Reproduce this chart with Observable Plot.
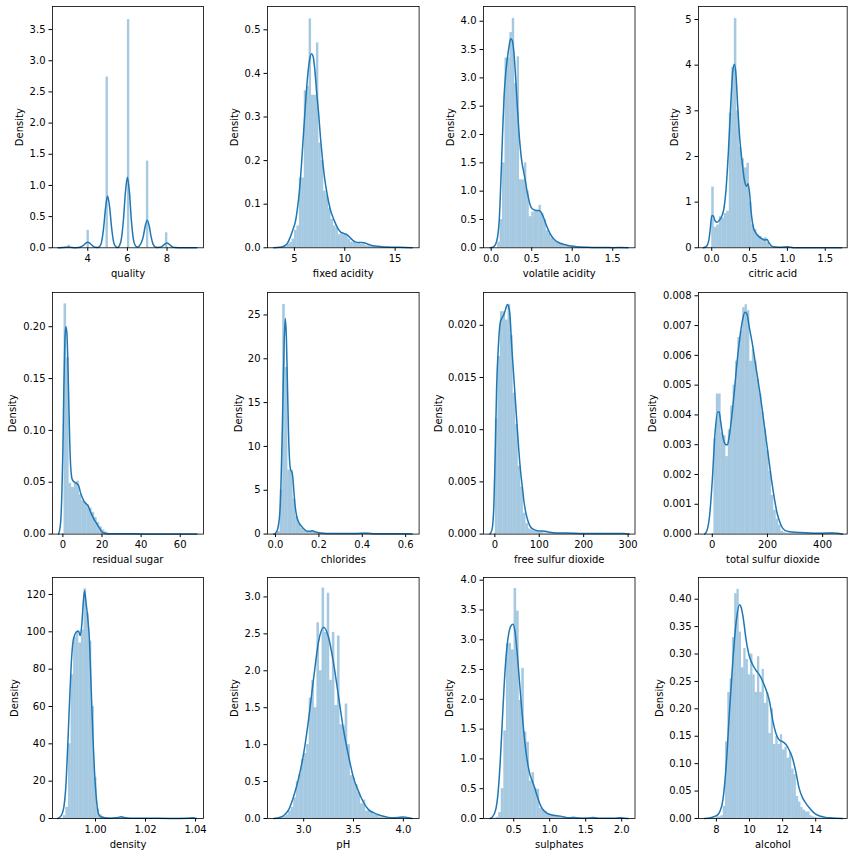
<!DOCTYPE html>
<html><head><meta charset="utf-8">
<script src="https://cdn.jsdelivr.net/npm/d3@7"></script>
<script src="https://cdn.jsdelivr.net/npm/@observablehq/plot@0.6"></script>
<style>
html,body{margin:0;padding:0;background:#fff;}
#fig{position:relative;width:856px;height:856px;background:#fff;overflow:hidden;}
#fig svg{position:absolute;overflow:visible;}
</style></head><body><div id="fig"></div>
<script>
// ---------- data ----------
const names = ["quality","fixed acidity","volatile acidity","citric acid","residual sugar","chlorides","free sulfur dioxide","total sulfur dioxide","density","pH","sulphates","alcohol"];
// histogram ranges (first and last bin edge); every histogram has 50 equal bins
const histRanges = [[3,9],[3.8,15.9],[0.08,1.58],[0,1.66],[0.6,65.8],[0.009,0.611],[1,289],[6,440],[0.98711,1.03898],[2.72,4.01],[0.22,2.0],[8,14.9]];

const qualityHist = [0.04,0,0,0,0,0,0,0,0.28,0,0,0,0,0,0,0,2.74,0,0,0,0,0,0,0,0,3.66,0,0,0,0,0,0,0,1.39,0,0,0,0,0,0,0,0.24,0,0,0,0,0,0,0,0.006];
const fixedAcidityHist = [0.002,0.004,0.008,0.012,0.02,0.04,0.05,0.16,0.16,0.36,0.37,0.525,0.35,0.35,0.47,0.24,0.2,0.13,0.12,0.09,0.065,0.05,0.045,0.03,0.035,0.03,0.028,0.02,0.013,0.012,0.01,0.012,0.008,0.008,0.005,0.004,0.003,0.004,0.002,0.002,0.001,0.001,0.0005,0.001,0.0005,0.0005,0.0003,0.0003,0.0003,0.0005];
const volatileAcidityHist = [0.1,0.5,1.5,3.35,3.35,3.8,4.05,2.9,3.37,1.2,1.2,1.5,1.0,0.55,0.63,0.65,0.65,0.75,0.6,0.5,0.3,0.25,0.17,0.12,0.1,0.07,0.06,0.04,0.035,0.025,0.02,0.015,0.01,0.008,0.006,0.005,0.004,0.004,0.003,0.002,0.002,0.002,0.001,0.001,0.001,0.001,0.001,0.0005,0.0005,0.002];
const citricAcidHist = [1.33,0.45,0.5,0.68,0.65,0.75,0.8,2.95,3.95,5.02,3.0,2.2,1.95,1.75,1.85,1.0,0.5,0.4,0.28,0.25,0.2,0.22,0.12,0.03,0.02,0.015,0.01,0.01,0.01,0.015,0.03,0.005,0.003,0.002,0.002,0.001,0,0,0,0,0,0,0,0,0,0,0,0,0,0.003];
const residualSugarHist = [0.222,0.17,0.049,0.045,0.05,0.051,0.038,0.032,0.03,0.028,0.025,0.021,0.016,0.011,0.007,0.004,0.002,0.0008,0.0004,0.0003,0.0002,0.0002,0.0002,0.0005,0.0002,0.0002,0.0001,0.0001,0.0001,0.0001,0.0001,0.0001,0.0001,0.0001,0.0001,0.0001,0.0001,0.0001,0.0001,0.0001,0.0001,0.0001,0.0001,0.0001,0.0001,0.0001,0.0001,0.0001,0.0001,0.0002];
const chloridesHist = [0.3,5,26.2,19,7.3,7.3,4.0,2.0,1.2,0.7,0.45,0.3,0.3,0.35,0.3,0.2,0.15,0.1,0.08,0.07,0.07,0.06,0.05,0.04,0.04,0.05,0.04,0.05,0.04,0.03,0.04,0.05,0.1,0.08,0.05,0.03,0.02,0.03,0.02,0.02,0.015,0.02,0.01,0.01,0.01,0.01,0.01,0.01,0.005,0.02];
const freeSulfurHist = [0.011,0.017,0.0213,0.0213,0.0205,0.022,0.019,0.0135,0.0105,0.0065,0.0045,0.002,0.001,0.0005,0.0004,0.0003,0.0003,0.0002,0.0002,0.0001,0.00008,0.00005,0.00005,0.00005,0.00005,0.00003,0.00003,0.00003,0.00003,0.00003,0.00003,0.00003,0.00003,0.00003,0.00003,0.00003,0.00003,0.00003,0.00003,0.00003,0.00003,0.00003,0.00003,0.00003,0.00003,0.00003,0.00003,0.00003,0.00003,0.00005];
const totalSulfurHist = [0.0032,0.0047,0.0047,0.0034,0.0033,0.0026,0.0035,0.0043,0.005,0.0058,0.0066,0.0068,0.0076,0.0077,0.0075,0.0058,0.0062,0.0058,0.0052,0.0047,0.0041,0.0035,0.0028,0.0021,0.0013,0.0008,0.0005,0.0003,0.0001,0.00005,0.00003,0.00003,0.00003,0.00003,0.00003,0.00003,0.00003,0.00003,0.00003,0.00003,0.00003,0.00003,0.00003,0.00003,0.00003,0.00003,0.00003,0.00003,0.00003,0.00005];
const densityHist = [1.5,6,40,77,97,100,94,101,123,110,95,60,22,5,2,1,0.5,0.3,0.2,0.3,0.4,0.5,0.8,0.3,0.1,0.1,0.1,0.1,0.1,0.1,0.1,0.1,0.1,0.1,0.1,0.1,0.1,0.1,0.1,0.1,0.1,0.1,0.1,0.1,0.1,0.1,0.1,0.1,0.1,0.3];
const pHHist = [0.01,0.01,0.02,0.03,0.05,0.1,0.15,0.28,0.5,0.6,0.8,0.88,1.0,1.63,1.87,1.5,2.65,2.0,3.12,2.52,3.05,1.87,2.52,1.53,2.47,1.27,1.25,1.55,1.0,0.58,0.55,0.46,0.35,0.2,0.25,0.1,0.1,0.08,0.05,0.04,0.02,0.015,0.01,0.005,0.005,0.003,0.003,0.01,0.02,0.01];
const sulphatesHist = [0.005,0.02,0.1,0.5,1.47,2.93,2.94,2.83,3.86,3.48,1.98,2.52,1.45,1.28,0.63,0.77,0.5,0.49,0.17,0.15,0.12,0.08,0.06,0.05,0.04,0.03,0.02,0.02,0.01,0.01,0.015,0.02,0.01,0.005,0.005,0.01,0.015,0.01,0.005,0.003,0.003,0.002,0.002,0.002,0.002,0.002,0.002,0.002,0.005,0.015];
const alcoholHist = [0.003,0.003,0.005,0.022,0.14,0.23,0.255,0.33,0.41,0.418,0.34,0.275,0.31,0.29,0.262,0.3,0.262,0.23,0.295,0.23,0.272,0.21,0.23,0.155,0.2,0.135,0.15,0.135,0.153,0.125,0.13,0.11,0.12,0.09,0.08,0.04,0.03,0.02,0.015,0.012,0.012,0.005,0.003,0.002,0.001,0.001,0.001,0.001,0.001,0.001];

// kernel density curves: [value, density]
const qualityKde = [[2.5,0],[2.6,0.001],[2.7,0.003],[2.8,0.006],[2.9,0.009],[3.0,0.011],[3.1,0.009],[3.2,0.005],[3.3,0.002],[3.4,0.002],[3.5,0.004],[3.6,0.01],[3.7,0.022],[3.8,0.045],[3.9,0.075],[4.0,0.09],[4.1,0.075],[4.2,0.045],[4.3,0.02],[4.4,0.008],[4.5,0.006],[4.6,0.022],[4.7,0.1],[4.8,0.32],[4.9,0.65],[5.0,0.83],[5.1,0.66],[5.2,0.33],[5.3,0.1],[5.4,0.022],[5.5,0.006],[5.6,0.035],[5.7,0.15],[5.8,0.45],[5.9,0.89],[6.0,1.13],[6.1,0.9],[6.2,0.44],[6.3,0.14],[6.4,0.035],[6.5,0.012],[6.6,0.03],[6.7,0.08],[6.8,0.18],[6.9,0.35],[7.0,0.44],[7.1,0.35],[7.2,0.17],[7.3,0.055],[7.4,0.015],[7.5,0.006],[7.6,0.008],[7.7,0.015],[7.8,0.035],[7.9,0.062],[8.0,0.075],[8.1,0.06],[8.2,0.03],[8.3,0.01],[8.4,0.003],[8.6,0.001],[8.8,0.002],[9.0,0.002],[9.2,0.001],[9.5,0]];
const fixedAcidityKde = [[2.96,0],[3.5,0.001],[4.0,0.004],[4.3,0.01],[4.6,0.025],[4.9,0.045],[5.1,0.06],[5.3,0.09],[5.5,0.13],[5.7,0.19],[5.9,0.26],[6.1,0.33],[6.3,0.39],[6.5,0.43],[6.7,0.445],[6.85,0.44],[7.0,0.415],[7.2,0.36],[7.4,0.31],[7.6,0.25],[7.8,0.2],[8.0,0.16],[8.2,0.13],[8.4,0.105],[8.6,0.085],[8.8,0.072],[9.0,0.06],[9.3,0.045],[9.6,0.036],[9.9,0.033],[10.2,0.03],[10.5,0.024],[10.8,0.017],[11.1,0.013],[11.4,0.012],[11.7,0.012],[12.0,0.011],[12.3,0.008],[12.6,0.006],[13.0,0.004],[13.5,0.003],[14.0,0.002],[14.5,0.0015],[15.0,0.001],[15.5,0.001],[16.0,0.0008],[16.7,0]];
const volatileAcidityKde = [[-0.012,0],[0.02,0.01],[0.05,0.05],[0.08,0.2],[0.1,0.5],[0.12,1.2],[0.14,2.0],[0.16,2.7],[0.18,3.1],[0.2,3.35],[0.22,3.55],[0.24,3.69],[0.26,3.66],[0.28,3.45],[0.3,3.05],[0.32,2.55],[0.34,2.1],[0.36,1.75],[0.38,1.5],[0.4,1.35],[0.42,1.2],[0.44,1.02],[0.46,0.88],[0.48,0.76],[0.5,0.7],[0.53,0.67],[0.56,0.66],[0.59,0.66],[0.62,0.62],[0.65,0.52],[0.68,0.4],[0.71,0.3],[0.74,0.22],[0.77,0.16],[0.8,0.12],[0.85,0.08],[0.9,0.06],[0.95,0.04],[1.0,0.03],[1.05,0.02],[1.1,0.012],[1.2,0.008],[1.3,0.005],[1.4,0.004],[1.5,0.003],[1.58,0.004],[1.69,0]];
const citricAcidKde = [[-0.11,0],[-0.07,0.03],[-0.04,0.15],[-0.02,0.4],[0,0.7],[0.02,0.7],[0.04,0.6],[0.07,0.56],[0.1,0.6],[0.13,0.68],[0.16,0.85],[0.19,1.3],[0.22,2.1],[0.25,3.1],[0.28,3.9],[0.3,4.02],[0.32,3.8],[0.34,3.2],[0.37,2.4],[0.4,1.9],[0.43,1.5],[0.46,1.35],[0.48,1.4],[0.5,1.2],[0.52,0.8],[0.55,0.45],[0.58,0.33],[0.62,0.25],[0.66,0.2],[0.7,0.17],[0.73,0.18],[0.76,0.1],[0.8,0.03],[0.85,0.015],[0.9,0.01],[0.95,0.015],[1.0,0.02],[1.05,0.01],[1.1,0.003],[1.2,0.002],[1.4,0.001],[1.66,0.002],[1.72,0]];
const residualSugarKde = [[-2.2,0],[-1.2,0.01],[-0.5,0.04],[0,0.08],[0.5,0.14],[1,0.185],[1.5,0.2],[2,0.195],[2.5,0.17],[3,0.13],[3.5,0.09],[4,0.065],[4.5,0.055],[5,0.052],[6,0.05],[7,0.049],[7.5,0.048],[8,0.047],[9,0.04],[10,0.035],[11,0.031],[12,0.029],[13,0.027],[14,0.022],[15,0.018],[16,0.014],[17,0.011],[18,0.008],[19,0.005],[20,0.002],[21,0.001],[22,0.0005],[25,0.0003],[30,0.0004],[32,0.0003],[40,0.0002],[50,0.0001],[60,0.0001],[66,0.0002],[68.5,0]];
const chloridesKde = [[-0.008,0],[0,0.1],[0.01,0.6],[0.02,2.5],[0.025,5.5],[0.03,10.5],[0.035,16.5],[0.04,22],[0.045,24.6],[0.05,22.5],[0.055,17],[0.06,11.5],[0.065,8.3],[0.07,7.3],[0.075,7.1],[0.08,6.4],[0.085,4.8],[0.09,3.3],[0.095,2.4],[0.1,1.8],[0.11,1.2],[0.12,0.9],[0.13,0.6],[0.14,0.4],[0.15,0.32],[0.16,0.32],[0.17,0.38],[0.18,0.3],[0.19,0.2],[0.2,0.15],[0.22,0.1],[0.25,0.07],[0.3,0.06],[0.35,0.06],[0.4,0.1],[0.41,0.12],[0.42,0.1],[0.45,0.05],[0.5,0.04],[0.55,0.03],[0.6,0.03],[0.63,0]];
const freeSulfurKde = [[-11,0],[-6,0.0005],[-2,0.003],[1,0.008],[4,0.014],[8,0.018],[12,0.0202],[16,0.0207],[20,0.021],[24,0.0215],[28,0.022],[31,0.0218],[34,0.021],[38,0.018],[42,0.0155],[46,0.013],[50,0.0105],[54,0.008],[58,0.006],[62,0.0045],[66,0.003],[70,0.002],[75,0.0012],[80,0.0007],[90,0.0004],[100,0.0003],[110,0.0003],[120,0.0002],[140,0.0001],[160,0.0001],[200,0.00005],[250,0.00005],[290,0.00005],[302,0]];
const totalSulfurKde = [[-28,0],[-20,0.0001],[-10,0.0006],[0,0.0018],[10,0.0034],[20,0.0041],[25,0.0041],[30,0.0038],[40,0.0032],[50,0.003],[55,0.003],[60,0.0032],[70,0.0039],[80,0.0048],[90,0.0058],[100,0.0066],[110,0.0072],[118,0.00745],[125,0.0074],[135,0.0069],[145,0.0064],[155,0.0058],[165,0.0052],[175,0.0046],[185,0.0039],[195,0.0032],[205,0.0025],[215,0.0018],[225,0.0012],[235,0.0007],[245,0.0004],[255,0.0002],[270,0.0001],[300,0.00006],[350,0.00004],[400,0.00003],[440,0.00004],[472,0]];
const densityKde = [[0.98493,0],[0.98627,1.5],[0.98733,6],[0.98827,20],[0.98893,40],[0.9896,62],[0.99027,82],[0.99093,94],[0.9916,98],[0.9924,100],[0.9932,100.5],[0.99387,98],[0.99453,104],[0.99507,115],[0.9956,122],[0.99627,115],[0.99693,107],[0.9976,95],[0.99827,70],[0.99893,45],[0.9996,25],[1.00027,12],[1.00093,4],[1.0016,1.5],[1.003,0.5],[1.006,0.2],[1.009,0.6],[1.0103,0.9],[1.0115,0.5],[1.014,0.1],[1.02,0.1],[1.03,0.05],[1.037,0.2],[1.039,0.4],[1.0403,0]];
const pHKde = [[2.7,0],[2.75,0.01],[2.8,0.04],[2.85,0.12],[2.9,0.3],[2.95,0.55],[3.0,0.88],[3.05,1.35],[3.1,1.9],[3.15,2.4],[3.2,2.59],[3.25,2.45],[3.3,2.1],[3.35,1.65],[3.4,1.2],[3.45,0.85],[3.5,0.55],[3.55,0.37],[3.6,0.22],[3.65,0.12],[3.7,0.08],[3.75,0.05],[3.8,0.03],[3.85,0.015],[3.9,0.01],[3.95,0.012],[4.0,0.02],[4.05,0.01],[4.087,0]];
const sulphatesKde = [[0.17,0],[0.2,0.02],[0.25,0.15],[0.28,0.4],[0.31,0.9],[0.34,1.6],[0.37,2.3],[0.4,2.8],[0.43,3.1],[0.46,3.23],[0.49,3.26],[0.52,3.12],[0.55,2.75],[0.58,2.3],[0.61,1.85],[0.64,1.45],[0.67,1.12],[0.7,0.88],[0.73,0.72],[0.76,0.62],[0.79,0.52],[0.82,0.4],[0.85,0.29],[0.88,0.2],[0.92,0.13],[0.96,0.09],[1.0,0.07],[1.05,0.055],[1.1,0.045],[1.15,0.04],[1.2,0.025],[1.27,0.012],[1.34,0.018],[1.4,0.01],[1.5,0.006],[1.6,0.015],[1.7,0.005],[1.8,0.003],[1.9,0.004],[1.98,0.014],[2.04,0.006],[2.09,0]];
const alcoholKde = [[7.28,0],[7.6,0.001],[8.0,0.005],[8.2,0.012],[8.4,0.035],[8.6,0.1],[8.8,0.2],[9.0,0.29],[9.2,0.36],[9.4,0.39],[9.5,0.385],[9.6,0.37],[9.8,0.325],[10.0,0.295],[10.2,0.28],[10.4,0.27],[10.6,0.262],[10.8,0.25],[11.0,0.235],[11.2,0.215],[11.4,0.18],[11.6,0.155],[11.8,0.143],[12.0,0.14],[12.2,0.135],[12.4,0.125],[12.6,0.11],[12.8,0.085],[13.0,0.055],[13.2,0.038],[13.4,0.028],[13.6,0.02],[13.8,0.013],[14.0,0.008],[14.3,0.004],[14.6,0.002],[15.0,0.001],[15.62,0]];

// axis extents and tick labels
const xDomains = [[2.22,9.84],[2.33,17.38],[-0.095,1.775],[-0.175,1.79],[-5.3,71.9],[-0.037,0.662],[-25.5,315.5],[-50,489],[0.9828,1.0432],[2.637,4.158],[0.08,2.185],[6.92,15.9]];
const yMaxes = [3.87,0.5535,4.26,5.285,0.233,27.56,0.02314,0.00811,129.1,3.263,4.045,0.4396];
const xTicks = [[4,6,8],[5,10,15],[0,0.5,1,1.5],[0,0.5,1,1.5],[0,20,40,60],[0,0.2,0.4,0.6],[0,100,200,300],[0,200,400],[1.0,1.02,1.04],[3,3.5,4],[0.5,1,1.5,2],[8,10,12,14]];
const xFormats = ["d","d",".1f",".1f","d",".1f","d","d",".2f",".1f",".1f","d"];
const yTicks = [[0,0.5,1,1.5,2,2.5,3,3.5],[0,0.1,0.2,0.3,0.4,0.5],[0,0.5,1,1.5,2,2.5,3,3.5,4],[0,1,2,3,4,5],[0,0.05,0.1,0.15,0.2],[0,5,10,15,20,25],[0,0.005,0.01,0.015,0.02],[0,0.001,0.002,0.003,0.004,0.005,0.006,0.007,0.008],[0,20,40,60,80,100,120],[0,0.5,1,1.5,2,2.5,3],[0,0.5,1,1.5,2,2.5,3,3.5,4],[0,0.05,0.1,0.15,0.2,0.25,0.3,0.35,0.4]];
const yFormats = [".1f",".1f",".1f","d",".2f","d",".3f",".3f","d",".1f",".1f",".2f"];

const hists = [qualityHist,fixedAcidityHist,volatileAcidityHist,citricAcidHist,residualSugarHist,chloridesHist,freeSulfurHist,totalSulfurHist,densityHist,pHHist,sulphatesHist,alcoholHist];
const kdes = [qualityKde,fixedAcidityKde,volatileAcidityKde,citricAcidKde,residualSugarKde,chloridesKde,freeSulfurKde,totalSulfurKde,densityKde,pHKde,sulphatesKde,alcoholKde];

// ---------- layout ----------
const colLeft = [51.7, 266.7, 482.5, 698.3];
const colRight = [202.7, 418.3, 634, 847];
const rowTop = [6, 291.7, 577.3];
const rowBottom = [247.3, 533.3, 818.3];
const labelOffsets = [33,33,33,23.3, 40,29,45,46, 37.5,33,33.6,39];

const fig = document.getElementById("fig");
const ml = 60, mr = 10, mt = 10, mb = 40;

names.forEach((name, i) => {
  const col = i % 4, row = Math.floor(i / 4);
  const L = colLeft[col], R = colRight[col], T = rowTop[row], B = rowBottom[row];
  const [lo, hi] = histRanges[i];
  const h = hists[i];
  const w = (hi - lo) / h.length;
  const bars = h.map((v, k) => ({x1: lo + k * w, x2: lo + (k + 1) * w, y: v}));
  const kde = kdes[i].map(([x, y]) => ({x, y}));
  const chart = Plot.plot({
    width: (R - L) + ml + mr,
    height: (B - T) + mt + mb,
    marginLeft: ml, marginRight: mr, marginTop: mt, marginBottom: mb,
    style: {fontFamily: "DejaVu Sans", fontSize: "10px", color: "#000", background: "transparent", overflow: "visible"},
    x: {domain: xDomains[i], ticks: xTicks[i], tickFormat: d3.format(xFormats[i]), tickSize: 3.5, tickPadding: 3.5, label: null},
    y: {domain: [0, yMaxes[i]], ticks: yTicks[i], tickFormat: d3.format(yFormats[i]), tickSize: 3.5, tickPadding: 3.5, label: null},
    marks: [
      Plot.rectY(bars, {x1: "x1", x2: "x2", y: "y", fill: "#1f77b4", fillOpacity: 0.4}),
      Plot.line(kde, {x: "x", y: "y", stroke: "#1f77b4", strokeWidth: 1.5, curve: "monotone-x"}),
      Plot.frame({stroke: "#000", strokeWidth: 0.8}),
      Plot.text(["Density"], {frameAnchor: "left", text: d => d, rotate: -90, dx: -labelOffsets[i], textAnchor: "middle", lineAnchor: "middle", fontSize: 10, fill: "#000"}),
      Plot.text([name], {frameAnchor: "bottom", text: d => d, dy: 26, textAnchor: "middle", lineAnchor: "middle", fontSize: 10, fill: "#000"})
    ]
  });
  chart.style.position = "absolute";
  chart.style.left = (L - ml) + "px";
  chart.style.top = (T - mt) + "px";
  fig.appendChild(chart);
});
</script>
</body></html>
